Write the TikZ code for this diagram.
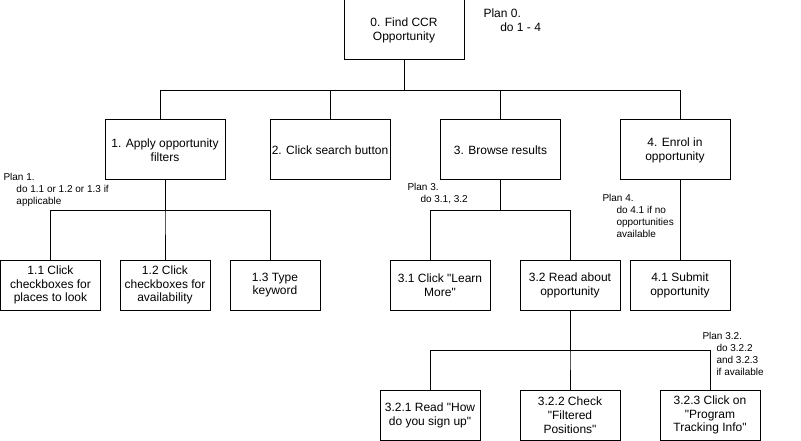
\documentclass[tikz,border=0pt]{standalone}
\usepackage{fontspec}
\setmainfont{Liberation Sans}[Ligatures=TeXOff]
\usepackage{tikz}
\usetikzlibrary{calc, positioning}

\begin{document}
\begin{tikzpicture}[x=1pt, y=-1pt, line width=1pt,
    task/.style={draw, minimum width=100pt, minimum height=50pt, inner sep=1pt, align=center,
      font=\fontsize{12}{13.8}\selectfont},
    plan/.style={anchor=north west, inner sep=0pt, align=left, font=\fontsize{10}{12}\selectfont}]
    \useasboundingbox (0,0) rectangle (801,441);
    \node[task, minimum width=120pt, minimum height=60pt] (t0) at (404,30) {0. Find CCR\\Opportunity};
    \node[task, minimum width=120pt, minimum height=60pt] (t1) at (165,150) {1. Apply opportunity\\filters};
    \node[task, minimum width=120pt, minimum height=60pt] (t2) at (330,150) {2. Click search button};
    \node[task, minimum width=120pt, minimum height=60pt] (t3) at (500.5,150) {3. Browse results};
    \node[task, minimum width=110pt, minimum height=60pt] (t4) at (675,150) {4. Enrol in\\opportunity};
    \node[task] (t11) at (50.5,285) {1.1 Click\\checkboxes for\\places to look};
    \node[task, minimum width=90pt] (t12) at (165,285) {1.2 Click\\checkboxes for\\availability};
    \node[task, minimum width=90pt] (t13) at (275,285) {1.3 Type\\keyword};
    \node[task] (t31) at (440,285) {3.1 Click "Learn\\More"};
    \node[task] (t32) at (570,285) {3.2 Read about\\opportunity};
    \node[task] (t41) at (680,285) {4.1 Submit\\opportunity};
    \node[task] (t321) at (430,415) {3.2.1 Read "How\\do you sign up"};
    \node[task] (t322) at (570,415) {3.2.2 Check\\"Filtered\\Positions"};
    \node[task] (t323) at (710,415) {3.2.3 Click on\\"Program\\Tracking Info"};
    \node[plan, font=\fontsize{12}{14}\selectfont] (p0) at (483,8) {Plan 0.\\\hspace{1.4em}do 1 - 4};
    \node[plan] (p1) at (3,173) {Plan 1.\\\hspace{1.3em}do 1.1 or 1.2 or 1.3 if\\\hspace{1.3em}applicable};
    \node[plan] (p3) at (407,183) {Plan 3.\\\hspace{1.3em}do 3.1, 3.2};
    \node[plan] (p4) at (602,194) {Plan 4.\\\hspace{1.4em}do 4.1 if no\\\hspace{1.4em}opportunities\\\hspace{1.4em}available};
    \node[plan] (p32) at (702,332) {Plan 3.2.\\\hspace{1.4em}do 3.2.2\\\hspace{1.4em}and 3.2.3\\\hspace{1.4em}if available};
    \draw (t0.south) -- ++(0,30) -| ([xshift=-5pt]t1.north);
    \draw (t0.south) -- ++(0,30) -| (t2.north);
    \draw (t0.south) -- ++(0,30) -| (t3.north);
    \draw (t0.south) -- ++(0,30) -| ([xshift=5pt]t4.north);
    \draw (t1.south) -- ++(0,30) -| (t11.north);
    \draw (t1.south) -- ++(0,30) -| (t12.north);
    \draw (t1.south) -- ++(0,30) -| ([xshift=-5pt]t13.north);
    \draw (t3.south) -- ++(0,30) -| ([xshift=-10pt]t31.north);
    \draw (t3.south) -- ++(0,30) -| (t32.north);
    \draw ([xshift=5pt]t4.south) -- (t41.north);
    \draw (t32.south) -- ++(0,40) -| (t321.north);
    \draw (t32.south) -- ++(0,40) -| (t322.north);
    \draw (t32.south) -- ++(0,40) -| (t323.north);
  \end{tikzpicture}
\end{document}
